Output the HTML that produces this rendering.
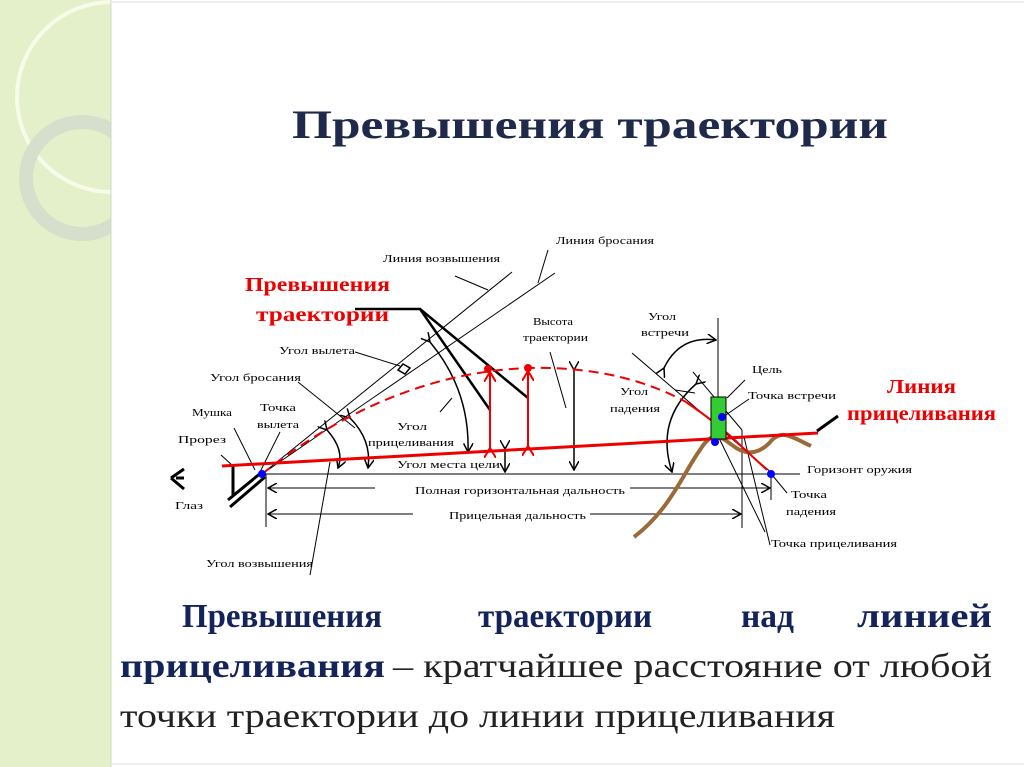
<!DOCTYPE html>
<html><head><meta charset="utf-8"><style>
html,body{margin:0;padding:0;background:#fff}
svg{display:block}
text{font-family:"Liberation Serif","Times New Roman",serif}
</style></head><body>
<svg width="1024" height="767" viewBox="0 0 1024 767" xmlns="http://www.w3.org/2000/svg">
<defs>
<marker id="a" markerWidth="10" markerHeight="10" refX="9" refY="5" orient="auto" markerUnits="userSpaceOnUse"><path d="M0,0 L9,5 L0,10" fill="none" stroke="#000" stroke-width="1.5"/></marker>
<marker id="r" markerWidth="12" markerHeight="12" refX="10" refY="6" orient="auto" markerUnits="userSpaceOnUse"><path d="M0,0 L10,6 L0,12" fill="none" stroke="#e00" stroke-width="2"/></marker>
<clipPath id="cp"><rect x="0" y="0" width="111" height="767"/></clipPath>
</defs>
<rect x="0" y="0" width="111" height="767" fill="#e3f0c9"/>
<g clip-path="url(#cp)">
<circle cx="112" cy="97" r="95" fill="none" stroke="#f7fbe9" stroke-width="4"/>
<circle cx="82" cy="178" r="56" fill="none" stroke="#d6dfcb" stroke-width="14"/>
</g>
<line x1="111" y1="0" x2="111" y2="767" stroke="#cfd8c0" stroke-width="1"/>
<line x1="111" y1="2" x2="1024" y2="2" stroke="#eee" stroke-width="2"/>
<line x1="111" y1="764" x2="1024" y2="764" stroke="#eee" stroke-width="2"/>

<text x="292" y="138" font-size="40" font-weight="bold" fill="#1f2a4a" textLength="596" lengthAdjust="spacingAndGlyphs">Превышения траектории</text>

<g stroke="#000" fill="none" stroke-width="1">
<line x1="262" y1="474" x2="800" y2="474"/>
<line x1="262" y1="474" x2="512" y2="272"/>
<line x1="262" y1="474" x2="555" y2="273"/>
<line x1="455" y1="276" x2="488" y2="290"/>
<line x1="538" y1="283" x2="548" y2="250"/>
<line x1="266" y1="474" x2="266" y2="527"/>
<line x1="375" y1="488" x2="268" y2="488" marker-end="url(#a)"/>
<line x1="630" y1="488" x2="770" y2="488" marker-end="url(#a)"/>
<line x1="413" y1="514" x2="268" y2="514" marker-end="url(#a)"/>
<line x1="590" y1="514" x2="741" y2="514" marker-end="url(#a)"/>
<line x1="771" y1="476" x2="771" y2="500"/>
<line x1="742" y1="430" x2="742" y2="528"/>
<line x1="233" y1="466" x2="233" y2="495" stroke-width="3"/>
<line x1="233" y1="495" x2="260" y2="473" stroke-width="1.5"/>
<line x1="228" y1="500" x2="262" y2="472" stroke-width="3"/>
<line x1="230" y1="507" x2="265" y2="477" stroke-width="3"/>
<line x1="233" y1="466" x2="221" y2="455"/>
<line x1="255" y1="470" x2="234" y2="428"/>
<path d="M171,478 L184,469 M171,478 L184,489 M176,478 L184,478" stroke-width="3"/>
<line x1="355" y1="352" x2="400" y2="366"/>
<path d="M403,364 L410,368 L405,374 L398,370 Z" stroke-width="1.5"/>
<line x1="298" y1="382" x2="355" y2="428"/>
<line x1="280" y1="432" x2="260" y2="472"/>
<line x1="310" y1="575" x2="330" y2="462"/>
<line x1="440" y1="412" x2="452" y2="398"/>
<line x1="550" y1="352" x2="566" y2="408"/>
<line x1="675" y1="390" x2="695" y2="393"/>
<line x1="744" y1="437" x2="770" y2="545"/>
<line x1="718" y1="318" x2="718" y2="432"/>
<line x1="745" y1="380" x2="727" y2="398"/>
<line x1="749" y1="399" x2="723" y2="417"/>
<line x1="787" y1="493" x2="773" y2="476"/>
<line x1="718" y1="436" x2="765" y2="532"/>
<line x1="817" y1="431" x2="838" y2="416" stroke-width="3"/>
<line x1="632" y1="353" x2="773" y2="474"/>
<line x1="693" y1="372" x2="742" y2="430"/>
<path d="M327,430 Q345,450 338,468" marker-start="url(#a)" marker-end="url(#a)" stroke-width="1.5"/>
<path d="M350,418 Q372,440 368,468" marker-start="url(#a)" marker-end="url(#a)" stroke-width="1.5"/>
<path d="M430,342 Q470,390 468,452" marker-start="url(#a)" marker-end="url(#a)" stroke-width="1.5"/>
<line x1="505" y1="449" x2="505" y2="472" marker-start="url(#a)" marker-end="url(#a)" stroke-width="1.5"/>
<line x1="574" y1="370" x2="574" y2="470" marker-start="url(#a)" marker-end="url(#a)" stroke-width="1.5"/>
<path d="M664,368 Q680,335 716,340" marker-start="url(#a)" marker-end="url(#a)" stroke-width="1.5"/>
<path d="M696,384 Q655,420 672,472" marker-start="url(#a)" marker-end="url(#a)" stroke-width="1.5"/>
<path d="M355,309 L420,309 L490,410 M420,309 L528,398" stroke-width="2.5"/>
</g>
<path d="M634,537 C670,510 685,470 700,450 C712,430 720,436 732,445 C748,458 762,452 772,440 C782,430 790,436 811,446" fill="none" stroke="#9b6a3a" stroke-width="4"/>
<line x1="222" y1="466" x2="818" y2="433" stroke="#e00" stroke-width="3"/>
<path d="M262,474 C330,420 420,372 528,368 C610,366 660,388 686,402" fill="none" stroke="#e00" stroke-width="2" stroke-dasharray="10,6"/>
<path d="M686,402 C705,415 725,430 740,445 L767,470" fill="none" stroke="#e00" stroke-width="2"/>
<line x1="490" y1="448" x2="490" y2="372" stroke="#e00" stroke-width="2" marker-start="url(#r)" marker-end="url(#r)"/>
<line x1="528" y1="446" x2="528" y2="371" stroke="#e00" stroke-width="2" marker-start="url(#r)" marker-end="url(#r)"/>
<circle cx="488" cy="369" r="4" fill="#e00"/>
<circle cx="528" cy="368" r="4" fill="#e00"/>
<rect x="711" y="397" width="15" height="42" fill="#3c3" stroke="#000"/>
<circle cx="722" cy="417" r="4" fill="#00f"/>
<circle cx="715" cy="442" r="4" fill="#00f"/>
<circle cx="771" cy="474" r="4" fill="#00f"/>
<circle cx="262" cy="474" r="4" fill="#00f"/>

<g font-size="11" fill="#000">
<text x="556" y="244" textLength="98" lengthAdjust="spacingAndGlyphs">Линия бросания</text>
<text x="383" y="262" textLength="117" lengthAdjust="spacingAndGlyphs">Линия возвышения</text>
<text x="533" y="325" textLength="40" lengthAdjust="spacingAndGlyphs">Высота</text>
<text x="523" y="341" textLength="65" lengthAdjust="spacingAndGlyphs">траектории</text>
<text x="648" y="320" textLength="28" lengthAdjust="spacingAndGlyphs">Угол</text>
<text x="641" y="336" textLength="48" lengthAdjust="spacingAndGlyphs">встречи</text>
<text x="279" y="354" textLength="76" lengthAdjust="spacingAndGlyphs">Угол вылета</text>
<text x="210" y="381" textLength="91" lengthAdjust="spacingAndGlyphs">Угол бросания</text>
<text x="192" y="416" textLength="40" lengthAdjust="spacingAndGlyphs">Мушка</text>
<text x="260" y="411" textLength="36" lengthAdjust="spacingAndGlyphs">Точка</text>
<text x="257" y="428" textLength="42" lengthAdjust="spacingAndGlyphs">вылета</text>
<text x="178" y="443" textLength="48" lengthAdjust="spacingAndGlyphs">Прорез</text>
<text x="397" y="430" textLength="30" lengthAdjust="spacingAndGlyphs">Угол</text>
<text x="368" y="446" textLength="86" lengthAdjust="spacingAndGlyphs">прицеливания</text>
<text x="397" y="468" textLength="103" lengthAdjust="spacingAndGlyphs">Угол места цели</text>
<text x="620" y="395" textLength="28" lengthAdjust="spacingAndGlyphs">Угол</text>
<text x="610" y="412" textLength="50" lengthAdjust="spacingAndGlyphs">падения</text>
<text x="752" y="373" textLength="30" lengthAdjust="spacingAndGlyphs">Цель</text>
<text x="748" y="399" textLength="88" lengthAdjust="spacingAndGlyphs">Точка встречи</text>
<text x="807" y="473" textLength="105" lengthAdjust="spacingAndGlyphs">Горизонт оружия</text>
<text x="415" y="494" textLength="210" lengthAdjust="spacingAndGlyphs">Полная горизонтальная дальность</text>
<text x="449" y="519" textLength="137" lengthAdjust="spacingAndGlyphs">Прицельная дальность</text>
<text x="791" y="498" textLength="36" lengthAdjust="spacingAndGlyphs">Точка</text>
<text x="786" y="515" textLength="50" lengthAdjust="spacingAndGlyphs">падения</text>
<text x="771" y="547" textLength="126" lengthAdjust="spacingAndGlyphs">Точка прицеливания</text>
<text x="175" y="509" textLength="28" lengthAdjust="spacingAndGlyphs">Глаз</text>
<text x="206" y="567" textLength="107" lengthAdjust="spacingAndGlyphs">Угол возвышения</text>
</g>
<g font-size="20" font-weight="bold" fill="#e00">
<text x="245" y="291" textLength="145" lengthAdjust="spacingAndGlyphs">Превышения</text>
<text x="256" y="321" textLength="133" lengthAdjust="spacingAndGlyphs">траектории</text>
<text x="887" y="393" textLength="69" lengthAdjust="spacingAndGlyphs">Линия</text>
<text x="847" y="420" textLength="149" lengthAdjust="spacingAndGlyphs">прицеливания</text>
</g>

<g font-size="34">
<text x="182" y="627" font-weight="bold" fill="#14235a" textLength="200" lengthAdjust="spacingAndGlyphs">Превышения</text>
<text x="478" y="627" font-weight="bold" fill="#14235a" textLength="174" lengthAdjust="spacingAndGlyphs">траектории</text>
<text x="741" y="627" font-weight="bold" fill="#14235a" textLength="53" lengthAdjust="spacingAndGlyphs">над</text>
<text x="857" y="627" font-weight="bold" fill="#14235a" textLength="135" lengthAdjust="spacingAndGlyphs">линией</text>
<text x="120" y="677" font-weight="bold" fill="#14235a" textLength="265" lengthAdjust="spacingAndGlyphs">прицеливания</text>
<text x="393" y="677" fill="#222" textLength="599" lengthAdjust="spacingAndGlyphs">– кратчайшее расстояние от любой</text>
<text x="120" y="727" textLength="715" lengthAdjust="spacingAndGlyphs" fill="#222">точки траектории до линии прицеливания</text>
</g>
</svg>
</body></html>
